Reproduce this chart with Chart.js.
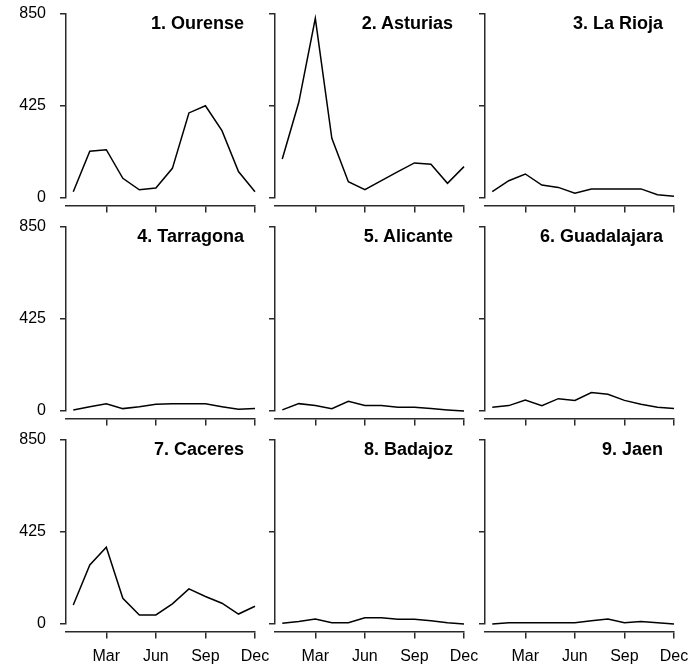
<!DOCTYPE html>
<html><head><meta charset="utf-8">
<script src="https://cdn.jsdelivr.net/npm/chart.js@4.4.0/dist/chart.umd.min.js"></script>
<style>
html,body{margin:0;padding:0;background:#fff;overflow:hidden;width:691px;height:667px;}
#wrap{position:relative;width:691px;height:667px;overflow:hidden;}
canvas{position:absolute;}
.ttl{position:absolute;font:bold 18px "Liberation Sans",Arial,sans-serif;color:#000;text-align:right;line-height:20px;white-space:nowrap;}
</style></head><body><div id="wrap"></div>
<script>
const months = [1,2,3,4,5,6,7,8,9,10,11,12];
const tickValues = [3,6,9,12];
const tickLabels = ['Mar','Jun','Sep','Dec'];
const yTicks = [0,425,850];
const titles = ['1. Ourense','2. Asturias','3. La Rioja','4. Tarragona','5. Alicante','6. Guadalajara','7. Caceres','8. Badajoz','9. Jaen'];

const ourense     = [29,216,223,91,38,46,137,393,426,311,122,29];
const asturias    = [180,442,830,276,75,38,80,122,162,156,68,145];
const laRioja     = [29,80,111,60,49,22,42,42,42,42,15,8];
const tarragona   = [5,20,33,11,20,31,33,33,33,20,8,11];
const alicante    = [5,34,25,11,45,25,25,17,17,11,5,0];
const guadalajara = [17,25,51,25,57,49,85,77,49,31,17,11];
const caceres     = [88,273,355,119,42,42,93,162,127,96,46,82];
const badajoz     = [3,12,23,6,6,29,29,22,22,15,6,0];
const jaen        = [0,6,6,6,6,6,15,23,6,11,6,0];

const series = [ourense,asturias,laRioja,tarragona,alicante,guadalajara,caceres,badajoz,jaen];

const colLeft = [66,275,485];
const rowTop = [14,227,440];
const plotW = 189, plotH = 184;
const padL = 66, padT = 14, padR = 26, padB = 43;
const FONT = '"Liberation Sans", Arial, sans-serif';
const AX = '#2a2a2a';
const wrap = document.getElementById('wrap');
function zeroPad(s){ s.paddingTop=0; s.paddingBottom=0; s.paddingLeft=0; s.paddingRight=0; }

series.forEach((vals, i) => {
  const r = Math.floor(i/3), c = i%3;
  const L = colLeft[c], T = rowTop[r];
  const cv = document.createElement('canvas');
  cv.width = padL+plotW+padR; cv.height = padT+plotH+padB;
  cv.style.left = (L-padL)+'px'; cv.style.top = (T-padT)+'px';
  cv.style.width = cv.width+'px'; cv.style.height = cv.height+'px';
  wrap.appendChild(cv);
  new Chart(cv, {
    type:'line',
    data:{datasets:[{data: months.map((m,k)=>({x:m,y:vals[k]})), borderColor:'#000', borderWidth:1.5, pointRadius:0, tension:0, fill:false, clip:false}]},
    options:{
      responsive:false, animation:false, devicePixelRatio:1,
      layout:{padding:{top:padT,right:padR,left:0,bottom:padB}},
      plugins:{legend:{display:false},tooltip:{enabled:false},title:{display:false}},
      scales:{
        x:{type:'linear', min:0.56, max:12, position:{y:-34},
          afterBuildTicks:s=>{s.ticks=tickValues.map(v=>({value:v}));},
          afterFit:s=>{s.height=0; zeroPad(s);},
          ticks:{display:r===2, autoSkip:false, maxRotation:0, minRotation:0, padding:10, color:'#000', font:{family:FONT,size:16}, callback:(v,idx)=>tickLabels[idx]},
          grid:{drawOnChartArea:false, drawTicks:true, tickLength:6, color:AX, lineWidth:1.5},
          border:{display:true, color:AX, width:1.5}},
        y:{type:'linear', min:0, max:850, position:'left',
          afterBuildTicks:s=>{s.ticks=yTicks.map(v=>({value:v}));},
          afterFit:s=>{s.width=padL; zeroPad(s);},
          ticks:{display:c===0, padding:14, color:'#000', font:{family:FONT,size:16}},
          grid:{drawOnChartArea:false, drawTicks:true, tickLength:6, color:AX, lineWidth:1.5},
          border:{display:true, color:AX, width:1.5}}
      }
    }
  });
  const d = document.createElement('div');
  d.className='ttl';
  d.textContent = titles[i];
  d.style.left='0px';
  d.style.width=(L+plotW-11)+'px';
  d.style.top=(T+8.5-10)+'px';
  wrap.appendChild(d);
});
</script>
</body></html>
